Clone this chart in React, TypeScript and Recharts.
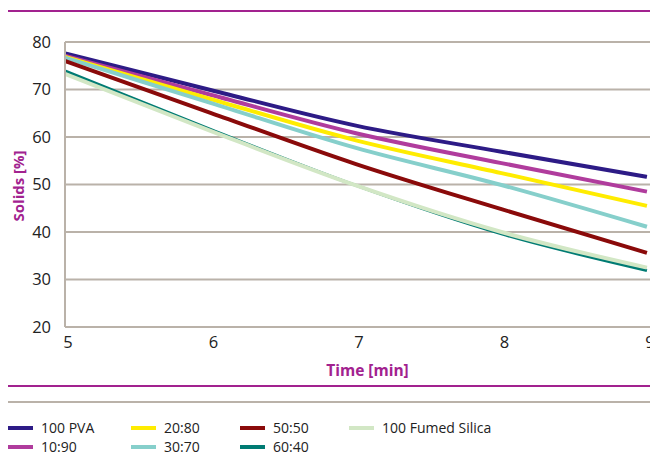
import { CartesianGrid, Line, LineChart, XAxis, YAxis } from 'recharts';

const times = [5, 6, 7, 8, 9];
const pva = [77.6, 69.9, 62.4, 56.9, 51.6];
const r10_90 = [77.1, 68.9, 60.8, 54.5, 48.5];
const r20_80 = [76.9, 68.0, 59.3, 52.4, 45.5];
const r30_70 = [76.7, 67.2, 57.7, 49.9, 41.1];
const r50_50 = [76.0, 65.1, 54.3, 44.8, 35.6];
const r60_40 = [73.9, 61.6, 49.8, 39.6, 31.9];
const fumedSilica = [73.3, 61.3, 49.8, 40.0, 32.5];

const xTicks = [5, 6, 7, 8, 9];
const yTicks = [20, 30, 40, 50, 60, 70, 80];

const series = [
  { key: 'pva', name: '100 PVA', values: pva, color: '#2d1b86', width: 4 },
  { key: 'r10_90', name: '10:90', values: r10_90, color: '#b03c9d', width: 4 },
  { key: 'r20_80', name: '20:80', values: r20_80, color: '#ffec00', width: 4 },
  { key: 'r30_70', name: '30:70', values: r30_70, color: '#86cfcb', width: 4 },
  { key: 'r50_50', name: '50:50', values: r50_50, color: '#8a0a0a', width: 4 },
  { key: 'r60_40', name: '60:40', values: r60_40, color: '#007b73', width: 3 },
  { key: 'fs', name: '100 Fumed Silica', values: fumedSilica, color: '#d2e7c5', width: 4 },
];

const data = times.map((t, i) => {
  const row: Record<string, number> = { t };
  series.forEach((s) => {
    row[s.key] = s.values[i];
  });
  return row;
});

const PURPLE = '#a2228f';
const GRID = '#bab2a9';
const FONT = '"Open Sans", sans-serif';

// legend is laid out column-wise, like the original
const legendCols = [
  ['pva', 'r10_90'],
  ['r20_80', 'r30_70'],
  ['r50_50', 'r60_40'],
  ['fs'],
];
const colLeft = [0, 123, 232, 341];

function LegendBox() {
  return (
    <div style={{ position: 'absolute', left: 0, top: 413, width: 650, height: 33, fontFamily: FONT, fontSize: 14, lineHeight: '14px', color: '#222' }}>
      {legendCols.map((col, ci) =>
        col.map((k, ri) => {
          const s = series.find((x) => x.key === k)!;
          return (
            <div
              key={k}
              style={{ position: 'absolute', left: colLeft[ci], top: ri * 19, display: 'flex', alignItems: 'center', whiteSpace: 'nowrap', height: 14 }}
            >
              <span style={{ display: 'inline-block', width: 25, height: 4, background: s.color, marginRight: 8 }} />
              <span>{s.name}</span>
            </div>
          );
        })
      )}
    </div>
  );
}

function XTick(props: any) {
  const { x, y, payload } = props;
  return (
    <text x={x + 3} y={y + 13} textAnchor="middle" fill="#222" fontSize={16.5} fontFamily={FONT}>
      {payload.value}
    </text>
  );
}

function YLabel(props: any) {
  const vb = props.viewBox;
  const x = vb.x + 10;
  const y = 178;
  return (
    <text x={x} y={y} transform={`rotate(-90 ${x} ${y})`} textAnchor="middle" dominantBaseline="central" fill={PURPLE} fontWeight={700} fontSize={15} fontFamily={FONT}>
      Solids [%]
    </text>
  );
}

export default function App() {
  return (
    <div style={{ position: 'relative', width: 650, height: 449 }}>
      <div style={{ position: 'absolute', left: 0, top: 2, width: 650, height: 2, background: PURPLE }} />
      <div style={{ position: 'absolute', left: 0, top: 377, width: 650, height: 2, background: PURPLE }} />
      <div style={{ position: 'absolute', left: 0, top: 393, width: 650, height: 2, background: GRID }} />
      <LineChart width={650} height={449} data={data} margin={{ top: 34, right: 0, bottom: 84, left: 0 }}>
        <CartesianGrid vertical={false} stroke={GRID} strokeWidth={2} />
        <XAxis
          dataKey="t"
          type="number"
          domain={[5, 9.076]}
          ticks={xTicks}
          tickLine={false}
          axisLine={{ stroke: GRID, strokeWidth: 2 }}
          tick={<XTick />}
          height={46}
          label={{ value: 'Time [min]', position: 'insideBottom', offset: -3, dx: 6, fill: PURPLE, fontWeight: 700, fontSize: 15.5, fontFamily: FONT }}
        />
        <YAxis
          type="number"
          domain={[20, 80]}
          ticks={yTicks}
          width={57}
          tickLine={false}
          axisLine={{ stroke: GRID, strokeWidth: 2 }}
          tick={{ fill: '#222', fontSize: 16.5, fontFamily: FONT }}
          tickMargin={8}
          label={<YLabel />}
        />
        {series.map((s) => (
          <Line
            key={s.key}
            dataKey={s.key}
            name={s.name}
            type="monotone"
            stroke={s.color}
            strokeWidth={s.width}
            dot={false}
            activeDot={false}
            isAnimationActive={false}
          />
        ))}
      </LineChart>
      <LegendBox />
    </div>
  );
}
